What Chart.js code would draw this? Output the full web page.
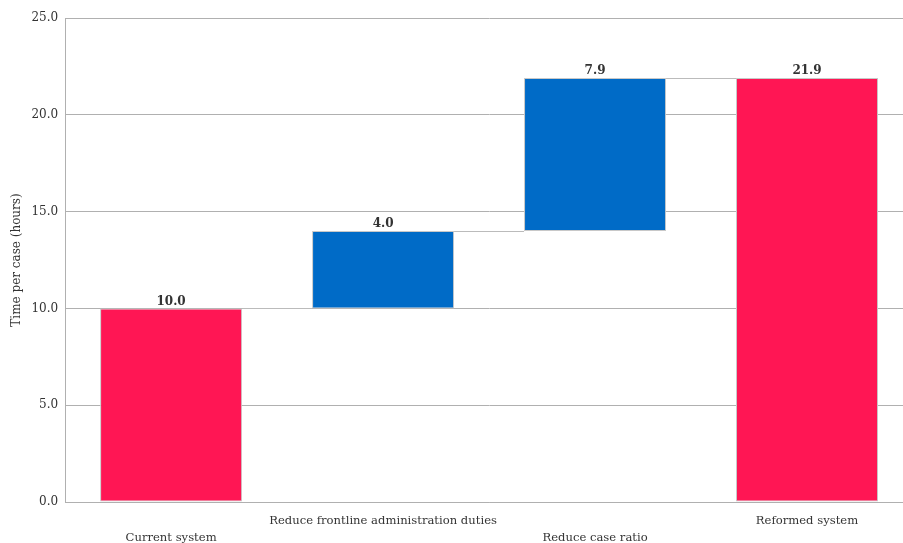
<!DOCTYPE html>
<html>
<head>
<meta charset="utf-8">
<script src="https://cdn.jsdelivr.net/npm/chart.js@4.4.1/dist/chart.umd.min.js"></script>
<style>
  html, body { margin: 0; padding: 0; background: #fff; overflow: hidden; }
  #wrap { width: 913px; height: 543px; position: relative; }
</style>
</head>
<body>
<div id="wrap"><canvas id="myChart"></canvas></div>
<script>
  // waterfall data
  var categories = ['Current system', 'Reduce frontline administration duties', 'Reduce case ratio', 'Reformed system'];
  var values = [10.0, 4.0, 7.9, 21.9];
  var isTotal = [true, false, false, true];
  var yTicks = [0, 5, 10, 15, 20, 25];

  var red = '#FF1654';
  var blue = '#006BC7';
  var serif = "'DejaVu Serif', serif";

  // floating ranges for each bar
  var ranges = [];
  var running = 0;
  values.forEach(function (v, i) {
    if (isTotal[i]) {
      ranges.push([0, v]);
      running = v;
    } else {
      ranges.push([running, running + v]);
      running = running + v;
    }
  });

  // stagger the x labels on two rows
  var xLabels = categories.map(function (c, i) {
    return i % 2 === 0 ? ['', c] : [c, ''];
  });

  var extras = {
    id: 'extras',
    afterDatasetsDraw: function (chart) {
      var ctx = chart.ctx;
      var meta = chart.getDatasetMeta(0);
      var y = chart.scales.y;
      ctx.save();
      // connectors
      ctx.strokeStyle = '#bbbbbb';
      ctx.lineWidth = 1;
      for (var i = 0; i < meta.data.length - 1; i++) {
        var a = meta.data[i], b = meta.data[i + 1];
        var yy = Math.round(y.getPixelForValue(ranges[i][1])) + 0.5;
        ctx.beginPath();
        ctx.moveTo(a.x + a.width / 2, yy);
        ctx.lineTo(b.x - b.width / 2, yy);
        ctx.stroke();
      }
      // value labels
      ctx.fillStyle = '#333333';
      ctx.font = 'bold 12px ' + serif;
      ctx.textAlign = 'center';
      ctx.textBaseline = 'bottom';
      meta.data.forEach(function (bar, i) {
        var top = y.getPixelForValue(ranges[i][1]);
        ctx.fillText(values[i].toFixed(1), bar.x, top - 1);
      });
      ctx.restore();
    }
  };

  var c = document.getElementById('myChart').getContext('2d');
  new Chart(c, {
    type: 'bar',
    data: {
      labels: xLabels,
      datasets: [{
        data: ranges,
        backgroundColor: isTotal.map(function (t) { return t ? red : blue; }),
        borderColor: '#c8c8c8',
        borderWidth: 1,
        borderSkipped: false,
        barPercentage: 0.67,
        categoryPercentage: 1
      }]
    },
    options: {
      responsive: true,
      maintainAspectRatio: false,
      animation: false,
      layout: { padding: { top: 18, left: 10, right: 0, bottom: 0 } },
      plugins: { legend: { display: false }, tooltip: { enabled: false } },
      scales: {
        x: {
          afterFit: function (axis) { axis.height = 41; },
          grid: { display: false, drawTicks: false },
          border: { color: '#b0b0b0' },
          ticks: {
            autoSkip: false, maxRotation: 0, minRotation: 0, padding: 11,
            color: '#333333', font: { family: serif, size: 11.6, lineHeight: 1.45 }
          }
        },
        y: {
          min: 0, max: 25,
          afterBuildTicks: function (axis) {
            axis.ticks = yTicks.map(function (v) { return { value: v }; });
          },
          grid: { color: '#b0b0b0', drawTicks: false },
          border: { color: '#b0b0b0' },
          ticks: {
            padding: 7, color: '#333333', font: { family: serif, size: 12 },
            callback: function (v) { return Number(v).toFixed(1); }
          },
          title: {
            display: true, text: 'Time per case (hours)', color: '#333333',
            font: { family: serif, size: 12 }, padding: { top: 0, bottom: 0 }
          }
        }
      }
    },
    plugins: [extras]
  });
</script>
</body>
</html>
